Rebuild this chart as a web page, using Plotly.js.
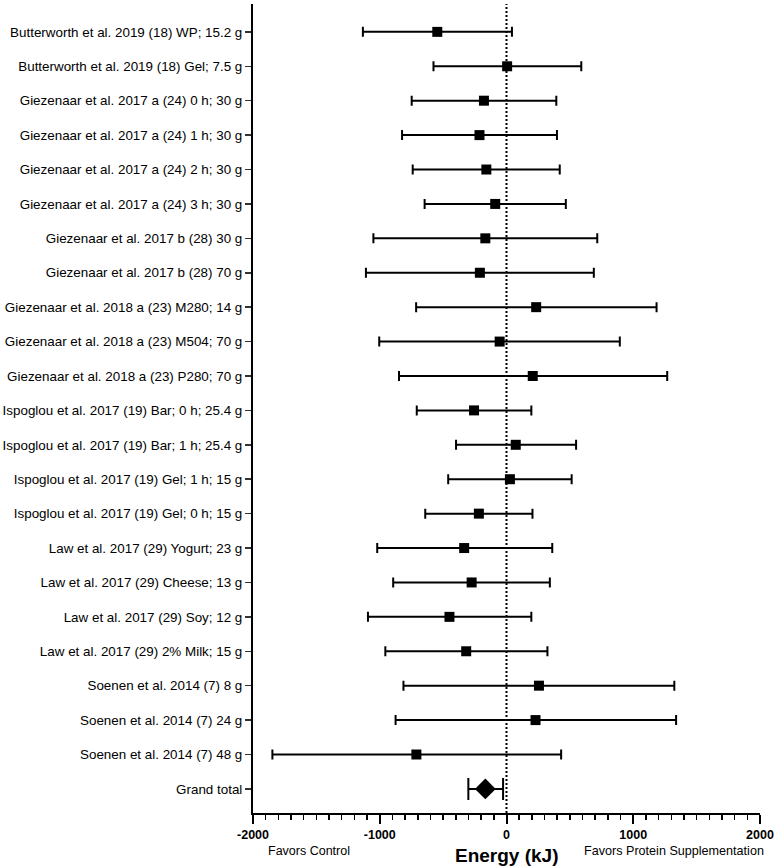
<!DOCTYPE html>
<html>
<head>
<meta charset="utf-8">
<script src="https://cdn.plot.ly/plotly-3.0.1.min.js"></script>
<style>html,body{margin:0;padding:0;background:#fff;}#chart{width:777px;height:867px;}</style>
</head>
<body>
<div id="chart"></div>
<script>
const studies = [
  "Butterworth et al. 2019 (18) WP; 15.2 g",
  "Butterworth et al. 2019 (18) Gel; 7.5 g",
  "Giezenaar et al. 2017 a (24) 0 h; 30 g",
  "Giezenaar et al. 2017 a (24) 1 h; 30 g",
  "Giezenaar et al. 2017 a (24) 2 h; 30 g",
  "Giezenaar et al. 2017 a (24) 3 h; 30 g",
  "Giezenaar et al. 2017 b (28) 30 g",
  "Giezenaar et al. 2017 b (28) 70 g",
  "Giezenaar et al. 2018 a (23) M280; 14 g",
  "Giezenaar et al. 2018 a (23) M504; 70 g",
  "Giezenaar et al. 2018 a (23) P280; 70 g",
  "Ispoglou et al. 2017 (19) Bar; 0 h; 25.4 g",
  "Ispoglou et al. 2017 (19) Bar; 1 h; 25.4 g",
  "Ispoglou et al. 2017 (19) Gel; 1 h; 15 g",
  "Ispoglou et al. 2017 (19) Gel; 0 h; 15 g",
  "Law et al. 2017 (29) Yogurt; 23 g",
  "Law et al. 2017 (29) Cheese; 13 g",
  "Law et al. 2017 (29) Soy; 12 g",
  "Law et al. 2017 (29) 2% Milk; 15 g",
  "Soenen et al. 2014 (7) 8 g",
  "Soenen et al. 2014 (7) 24 g",
  "Soenen et al. 2014 (7) 48 g"
];
const means = [-546, 5, -178, -213, -159, -89, -167, -210, 234, -54, 207, -256, 73, 27, -218, -334, -275, -450, -318, 256, 229, -711];
const lower = [-1133, -576, -748, -824, -740, -646, -1050, -1109, -713, -1004, -848, -708, -398, -460, -641, -1020, -894, -1093, -956, -813, -875, -1847];
const upper = [43, 590, 393, 398, 420, 468, 716, 689, 1184, 894, 1268, 196, 549, 514, 205, 361, 342, 196, 323, 1324, 1338, 431];

const totalLabel = "Grand total";
const totalMean = -167;
const totalLower = -301;
const totalUpper = -27;

const xTickVals = [-2000, -1000, 0, 1000, 2000];
const xTickText = ["-2000", "-1000", "0", "1000", "2000"];

const yPos = studies.map((_, i) => i);
const totalPos = studies.length;

const FONT = "Arial, 'Liberation Sans', sans-serif";

const traces = [
  {
    type: "scatter", mode: "markers",
    x: means, y: yPos,
    marker: {symbol: "square", size: 10, color: "#000"},
    error_x: {
      type: "data", symmetric: false,
      array: means.map((m, i) => upper[i] - m),
      arrayminus: means.map((m, i) => m - lower[i]),
      color: "#000", thickness: 2, width: 5
    },
    hoverinfo: "x+y", showlegend: false
  },
  {
    type: "scatter", mode: "markers",
    x: [totalMean], y: [totalPos],
    marker: {symbol: "diamond", size: 16, color: "#000"},
    error_x: {
      type: "data", symmetric: false,
      array: [totalUpper - totalMean],
      arrayminus: [totalMean - totalLower],
      color: "#000", thickness: 2, width: 11
    },
    showlegend: false
  }
];

const layout = {
  width: 777, height: 867,
  margin: {l: 253, r: 17, t: 4, b: 54},
  paper_bgcolor: "#fff", plot_bgcolor: "#fff",
  font: {family: FONT, color: "#000"},
  showlegend: false,
  xaxis: {
    range: [-2000, 2000],
    tickvals: xTickVals, ticktext: xTickText,
    tickfont: {size: 12.5, family: FONT, weight: "bold"},
    showgrid: false, zeroline: false,
    showline: true, linecolor: "#000", linewidth: 2,
    ticks: "outside", ticklen: 9, tickwidth: 2, tickcolor: "#000",
    minor: {dtick: 100, ticks: "outside", ticklen: 5, tickwidth: 1.5, tickcolor: "#000", showgrid: false},
    fixedrange: true
  },
  yaxis: {
    range: [22.7, -0.81],
    tickvals: yPos.concat([totalPos]),
    ticktext: studies.concat([totalLabel]),
    tickfont: {size: 13.4, family: FONT},
    showgrid: false, zeroline: false,
    showline: true, linecolor: "#000", linewidth: 2,
    ticks: "outside", ticklen: 6, tickwidth: 1.5, tickcolor: "#333",
    fixedrange: true
  },
  shapes: [
    {type: "line", xref: "x", yref: "paper", x0: 0, x1: 0, y0: 0, y1: 1,
     line: {color: "#000", width: 2, dash: "2px,2px"}, layer: "below"}
  ],
  annotations: [
    {text: "<b>Energy (kJ)</b>", xref: "x", yref: "paper", x: 0, y: 0, yshift: -42,
     showarrow: false, xanchor: "center", yanchor: "middle", font: {size: 19}},
    {text: "Favors Control", xref: "x", yref: "paper", x: -1561, y: 0, yshift: -38,
     showarrow: false, xanchor: "center", yanchor: "middle", font: {size: 12.5}},
    {text: "Favors Protein Supplementation", xref: "x", yref: "paper", x: 1318, y: 0, yshift: -38,
     showarrow: false, xanchor: "center", yanchor: "middle", font: {size: 12.6}}
  ]
};

Plotly.newPlot("chart", traces, layout, {staticPlot: true, displayModeBar: false});
</script>
</body>
</html>
